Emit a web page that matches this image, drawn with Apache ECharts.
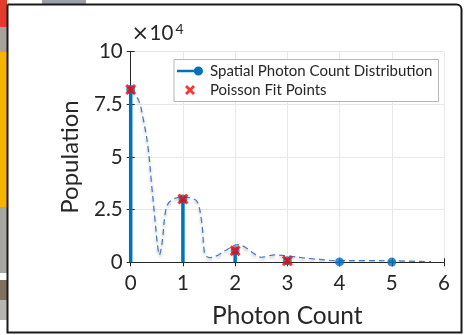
<!DOCTYPE html>
<html>
<head>
<meta charset="utf-8">
<script src="https://cdn.jsdelivr.net/npm/echarts@6/dist/echarts.min.js"></script>
<style>
html,body{margin:0;padding:0;background:#fff;}
#c{width:464px;height:335px;}
</style>
</head>
<body>
<div id="c"></div>
<script>
// ---- data (population in counts) ----
const photonCounts = [0, 1, 2, 3, 4, 5];
const stemValues = [82000, 30000, 5500, 700, 200, 100];
const fitCounts = [0, 1, 2, 3];
const fitValues = [82000, 30000, 5500, 700];
const curveX = [0, 0.15, 0.24, 0.33, 0.40, 0.47, 0.51, 0.55, 0.58, 0.61, 0.66, 0.72, 0.85, 1.0, 1.17, 1.28, 1.36, 1.41, 1.45, 1.52, 1.68, 1.84, 2.06, 2.2, 2.35, 2.5, 2.76, 3.0, 3.5, 4.0, 4.5, 5.0, 5.75];
const curveY = [82000, 77000, 68000, 55000, 37000, 19000, 9000, 3500, 6000, 11000, 23000, 28000, 30400, 31000, 30400, 28500, 19000, 5000, 2800, 2200, 3500, 6000, 8400, 7000, 4300, 2400, 3500, 3000, 1600, 800, 800, 700, 300];
const xTicks = ['0', '1', '2', '3', '4', '5', '6'];
const yTicks = ['0', '2.5', '5', '7.5', '10'];
const seriesNames = ['Spatial Photon Count Distribution', 'Poisson Fit Points'];
const expTimes = '×';
const expBase = '10';
const expPower = '4';

const FONT = 'Lato';
const TXT = '#262626';
const BLUE = '#0072BD';
const crossPath = 'path://M2,0 L5,3 L8,0 L10,2 L7,5 L10,8 L8,10 L5,7 L2,10 L0,8 L3,5 L0,2 Z';
const stemIcon = 'path://M0,3.8 L21,3.8 L21,6.2 L0,6.2 Z M16.5,5 A4.5,4.5 0 1 1 25.5,5 A4.5,4.5 0 1 1 16.5,5 Z';

const chart = echarts.init(document.getElementById('c'), null, {renderer: 'canvas'});
const gl = 130.7, gt = 51.7, gw = 313.3, gh = 210.6;

chart.setOption({
  backgroundColor: '#fff',
  animation: false,
  textStyle: {fontFamily: FONT},
  graphic: [
    // surrounding screenshot bits
    {type: 'rect', shape: {x: 0, y: 0, width: 7, height: 27}, style: {fill: '#e53b2c'}},
    {type: 'rect', shape: {x: 0, y: 27, width: 7, height: 25}, style: {fill: '#a8a29c'}},
    {type: 'rect', shape: {x: 0, y: 52, width: 7, height: 155}, style: {fill: '#f7b500'}},
    {type: 'rect', shape: {x: 0, y: 207, width: 7, height: 66}, style: {fill: '#a9a6a2'}},
    {type: 'rect', shape: {x: 0, y: 280, width: 7, height: 20}, style: {fill: '#7e7160'}},
    {type: 'rect', shape: {x: 0, y: 300, width: 7, height: 20}, style: {fill: '#b8b4b0'}},
    {type: 'rect', shape: {x: 42, y: 0, width: 44, height: 4}, style: {fill: '#9aa0a8'}},
    // outer frame
    {type: 'rect', shape: {x: 7.5, y: 4.5, width: 454, height: 328, r: [0, 5, 0, 0]}, style: {fill: 'none', stroke: '#1a1a1a', lineWidth: 2}},
    // exponent label
    {type: 'text', x: 131.5, y: 45, style: {
      text: expTimes, fill: TXT, fontSize: 21, fontFamily: 'DejaVu Sans', verticalAlign: 'bottom'}},
    {type: 'text', x: 149.5, y: 44, style: {
      text: expBase, fill: TXT, fontSize: 20.5, fontFamily: FONT, verticalAlign: 'bottom'}},
    {type: 'text', x: 175.5, y: 22, style: {
      text: expPower, fill: TXT, fontSize: 14, fontFamily: FONT, verticalAlign: 'top'}}
  ],
  grid: {left: gl, top: gt, width: gw, height: gh, containLabel: false},
  legend: {
    orient: 'vertical',
    left: 174, top: 59.5,
    width: 262,
    padding: [4, 6, 4, 3],
    itemGap: 4,
    itemWidth: 26, itemHeight: 10,
    backgroundColor: '#fff',
    borderColor: '#b5b5b5', borderWidth: 1, borderRadius: 0,
    textStyle: {fontSize: 15, color: TXT, fontFamily: FONT, padding: [0, 0, 0, 2]},
    selectedMode: false,
    data: [
      {name: seriesNames[0], icon: stemIcon, itemStyle: {color: BLUE}},
      {name: seriesNames[1], icon: crossPath, itemStyle: {color: '#ff0000'}}
    ]
  },
  xAxis: [{
    type: 'value', min: 0, max: 6, interval: 1,
    axisLine: {show: true, lineStyle: {color: TXT, width: 1}},
    axisTick: {show: true, inside: true, length: 4, lineStyle: {color: TXT}},
    axisLabel: {fontSize: 20.5, color: TXT, margin: 11, fontFamily: FONT,
      formatter: (v) => xTicks[Math.round(v)]},
    splitLine: {show: true, lineStyle: {color: '#e8e8e8', width: 1}},
    name: 'Photon Count', nameLocation: 'middle', nameGap: 41,
    nameTextStyle: {fontSize: 24.5, color: TXT, fontFamily: FONT}
  }, {
    type: 'value', min: 0, max: 6, interval: 1, position: 'top',
    axisLine: {show: true, lineStyle: {color: TXT, width: 1}},
    axisTick: {show: true, inside: true, length: 4, lineStyle: {color: TXT}},
    axisLabel: {show: false}, splitLine: {show: false}
  }],
  yAxis: [{
    type: 'value', min: 0, max: 100000, interval: 25000,
    axisLine: {show: true, lineStyle: {color: TXT, width: 1}},
    axisTick: {show: true, inside: true, length: 4, lineStyle: {color: TXT}},
    axisLabel: {fontSize: 20.5, color: TXT, margin: 8, fontFamily: FONT,
      formatter: (v) => yTicks[Math.round(v / 25000)]},
    splitLine: {show: true, lineStyle: {color: '#e8e8e8', width: 1}},
    name: 'Population', nameLocation: 'middle', nameGap: 48,
    nameTextStyle: {fontSize: 24, color: TXT, fontFamily: FONT}
  }, {
    type: 'value', min: 0, max: 100000, interval: 25000, position: 'right',
    axisLine: {show: true, lineStyle: {color: TXT, width: 1}},
    axisTick: {show: true, inside: true, length: 4, lineStyle: {color: TXT}},
    axisLabel: {show: false}, splitLine: {show: false}
  }],
  series: [
    {
      name: 'curve', type: 'line', xAxisIndex: 0, yAxisIndex: 0,
      data: curveX.map((x, i) => [x, curveY[i]]),
      smooth: 0.35, showSymbol: false, symbol: 'none', z: 3,
      lineStyle: {color: '#3f78c4', width: 1.2, type: [6, 4],
        shadowColor: 'rgba(0,0,0,0.35)', shadowBlur: 3, shadowOffsetY: 2}
    },
    {
      name: seriesNames[0], type: 'bar', xAxisIndex: 0, yAxisIndex: 0,
      data: photonCounts.map((x, i) => [x, stemValues[i]]),
      barWidth: 3.5, itemStyle: {color: BLUE}, z: 4
    },
    {
      name: seriesNames[0], type: 'scatter', xAxisIndex: 0, yAxisIndex: 0,
      data: photonCounts.map((x, i) => [x, stemValues[i]]),
      symbol: 'circle', symbolSize: 9, itemStyle: {color: BLUE}, z: 5
    },
    {
      name: seriesNames[1], type: 'scatter', xAxisIndex: 0, yAxisIndex: 0,
      data: fitCounts.map((x, i) => [x, fitValues[i]]),
      symbol: crossPath, symbolSize: 11, itemStyle: {color: '#ff0000'}, z: 6
    }
  ]
});
</script>
</body>
</html>
